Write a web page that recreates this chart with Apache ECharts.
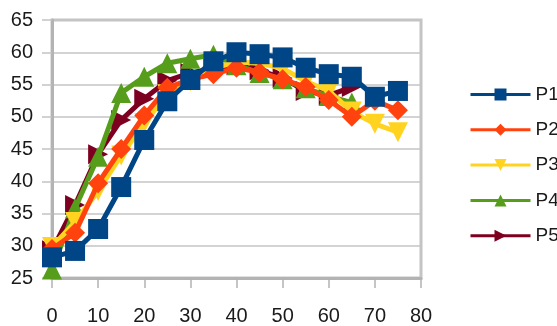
<!DOCTYPE html>
<html>
<head>
<meta charset="utf-8">
<script src="https://cdn.jsdelivr.net/npm/echarts@6/dist/echarts.min.js"></script>
<style>
  html, body { margin: 0; padding: 0; background: #fff; }
  #chart { width: 557px; height: 326px; }
</style>
</head>
<body>
<div id="chart"></div>
<script>
// Sample times along the x axis
const xValues = [0, 5, 10, 15, 20, 25, 30, 35, 40, 45, 50, 55, 60, 65, 70, 75];

// Measured series
const seriesNames = ['P1', 'P2', 'P3', 'P4', 'P5'];
const p1 = [28.2, 29.2, 32.6, 39.1, 46.4, 52.4, 55.7, 58.6, 60.0, 59.7, 59.2, 57.6, 56.6, 56.2, 53.1, 54.0];
const p2 = [29.5, 32.0, 39.7, 45.0, 50.2, 54.5, 55.8, 56.6, 57.6, 56.9, 55.8, 54.6, 52.6, 50.0, 52.5, 51.0];
const p3 = [29.8, 33.7, 38.5, 44.0, 49.0, 53.5, 55.5, 57.5, 58.5, 58.3, 57.5, 55.5, 54.0, 50.8, 48.9, 47.6];
const p4 = [26.3, 35.8, 43.8, 53.7, 56.2, 58.3, 59.0, 59.6, 58.0, 56.8, 55.8, 54.4, 53.2, 52.2];
const p5 = [29.3, 36.3, 44.2, 49.5, 52.8, 55.6, 56.8, 57.5, 58.0, 57.2, 56.0, 54.0, 53.3, 54.6];

// Axis ticks
const xTicks = [0, 10, 20, 30, 40, 50, 60, 70, 80];
const yTicks = [25, 30, 35, 40, 45, 50, 55, 60, 65];

const colors = ['#004586', '#ff420e', '#ffd320', '#579d1c', '#7e0021'];
const symbols = ['rect', 'diamond', 'triangle', 'triangle', 'triangle'];
const rotations = [0, 0, 180, 0, -90];
const values = [p1, p2, p3, p4, p5];

function pairs(vals) {
  return vals.map((v, i) => [xValues[i], v]);
}

const series = seriesNames.map((name, i) => ({
  name: name,
  type: 'line',
  data: pairs(values[i]),
  symbol: symbols[i],
  symbolSize: 20,
  symbolRotate: rotations[i],
  showAllSymbol: true,
  z: 10 - i,
  lineStyle: { color: colors[i], width: 5 },
  itemStyle: { color: colors[i], borderWidth: 0 },
  emphasis: { disabled: true },
  animation: false
}));

const chart = echarts.init(document.getElementById('chart'), null, { renderer: 'canvas' });
chart.setOption({
  animation: false,
  color: colors,
  grid: {
    left: 52, right: 136, top: 20, bottom: 48,
    show: true, borderColor: '#c4c4c4', borderWidth: 3, backgroundColor: 'transparent'
  },
  legend: {
    orient: 'vertical',
    left: 464, top: 80,
    itemWidth: 60, itemHeight: 15, itemGap: 16.3,
    data: seriesNames,
    lineStyle: { width: 3 },
    textStyle: { fontFamily: 'Liberation Sans', fontSize: 19, color: '#1a1a1a' }
  },
  xAxis: {
    type: 'value',
    min: xTicks[0], max: xTicks[xTicks.length - 1], interval: 10,
    axisLine: { show: true, onZero: false, lineStyle: { color: '#b3b3b3', width: 3 } },
    axisTick: { show: true, length: 10, lineStyle: { color: '#b3b3b3', width: 1.5 } },
    axisLabel: { margin: 28, fontFamily: 'Liberation Sans', fontSize: 20, color: '#1a1a1a' },
    splitLine: { show: false }
  },
  yAxis: {
    type: 'value',
    min: yTicks[0], max: yTicks[yTicks.length - 1], interval: 5,
    axisLine: { show: true, onZero: false, lineStyle: { color: '#b3b3b3', width: 3 } },
    axisTick: { show: true, length: 10, lineStyle: { color: '#c4c4c4', width: 1.5 } },
    axisLabel: { margin: 19, fontFamily: 'Liberation Sans', fontSize: 20, color: '#1a1a1a' },
    splitLine: { show: true, lineStyle: { color: '#c4c4c4', width: 1.5 } }
  },
  series: series
});
</script>
</body>
</html>
